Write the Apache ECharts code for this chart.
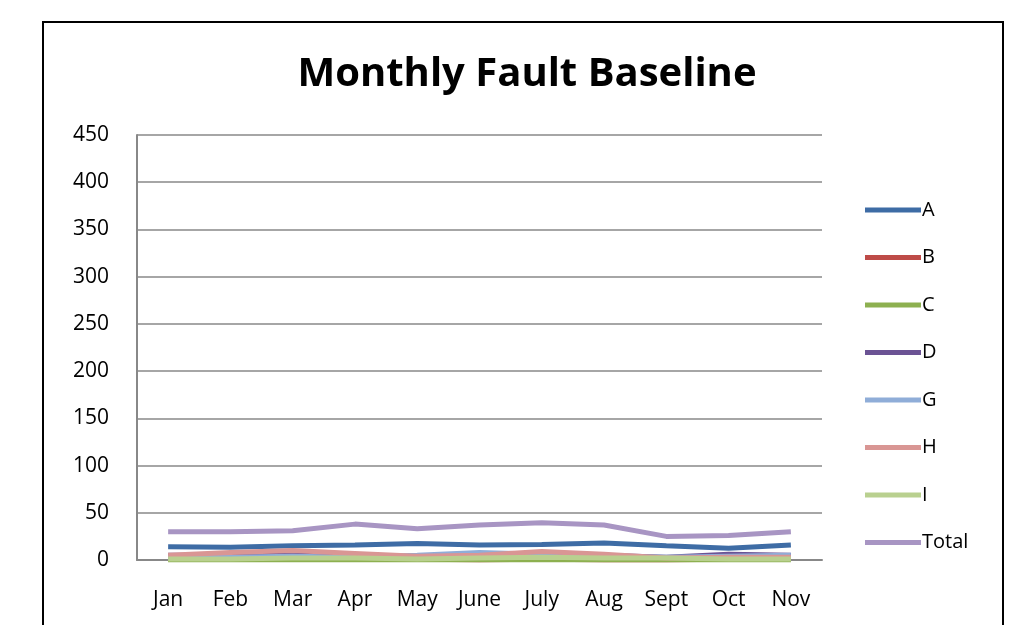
<!DOCTYPE html>
<html>
<head>
<meta charset="utf-8">
<script src="https://cdn.jsdelivr.net/npm/echarts@6/dist/echarts.min.js"></script>
<style>
  html, body { margin: 0; padding: 0; background: #fff; }
  #chart { width: 1027px; height: 625px; }
</style>
</head>
<body>
<div id="chart"></div>
<script>
var months = ['Jan', 'Feb', 'Mar', 'Apr', 'May', 'June', 'July', 'Aug', 'Sept', 'Oct', 'Nov']
var seriesA = [14, 13.5, 15, 16, 17.5, 16, 16.5, 18, 15, 12.5, 16]
var seriesB = [1, 1, 1, 1, 1, 0, 1, 0, 0, 1, 1]
var seriesC = [0, 0, 0, 0, 0, 0, 0, 0, 0, 0, 0]
var seriesD = [5, 5, 6, 4, 3, 4, 5, 5, 3, 6, 5]
var seriesG = [3, 3, 4, 3, 5, 8, 6, 4, 3, 4, 5]
var seriesH = [5, 8, 10, 7, 4, 5, 9, 6, 2, 3, 3]
var seriesI = [1, 1, 2, 2, 1, 2, 3, 2, 2, 1, 1]
var seriesTotal = [30, 30, 31, 38, 33, 37, 39.5, 37, 25, 26, 30]

var names = ['A', 'B', 'C', 'D', 'G', 'H', 'I', 'Total']
var values = [seriesA, seriesB, seriesC, seriesD, seriesG, seriesH, seriesI, seriesTotal]
var colors = ['#3e6ca5', '#be4b48', '#8db050', '#6b5394', '#8fadd8', '#d99694', '#b9d08f', '#a895c3']

var chart = echarts.init(document.getElementById('chart'))
var font = '"Open Sans", sans-serif'

// later series are drawn on top, like the spreadsheet did
var series = names.map(function (n, i) {
  return {
    name: n,
    type: 'line',
    data: values[i],
    symbol: 'none',
    z: 3 + i,
    lineStyle: { width: 5, color: colors[i] },
    itemStyle: { color: colors[i] }
  }
})

var option = {
  animation: false,
  backgroundColor: '#fff',
  title: {
    text: 'Monthly Fault Baseline',
    left: 522,
    top: 50,
    textAlign: 'center',
    textStyle: { fontFamily: font, fontWeight: 'bold', fontSize: 40, color: '#000' }
  },
  graphic: [{
    type: 'rect',
    shape: { x: 43, y: 22, width: 960, height: 640 },
    style: { fill: 'none', stroke: '#000', lineWidth: 2 },
    silent: true
  }],
  legend: {
    orient: 'vertical',
    left: 860,
    top: 195,
    itemGap: 27.5,
    itemWidth: 56,
    itemHeight: 5,
    icon: 'rect',
    data: names,
    textStyle: { fontFamily: font, fontSize: 20, color: '#000', padding: [0, 0, 0, -4] }
  },
  grid: { left: 137, right: 205, top: 135, bottom: 65 },
  xAxis: {
    type: 'category',
    data: months,
    boundaryGap: true,
    axisLine: { lineStyle: { color: '#888', width: 2 } },
    axisTick: { show: false },
    axisLabel: { fontFamily: font, fontSize: 21, color: '#000', margin: 30 }
  },
  yAxis: {
    type: 'value',
    min: 0,
    max: 450,
    interval: 50,
    axisLine: { show: true, lineStyle: { color: '#888', width: 2 } },
    axisTick: { show: false },
    splitLine: { lineStyle: { color: '#888', width: 1.5 } },
    axisLabel: { fontFamily: font, fontSize: 21, color: '#000', margin: 28, align: 'right' }
  },
  series: series
}

chart.setOption(option)
</script>
</body>
</html>
